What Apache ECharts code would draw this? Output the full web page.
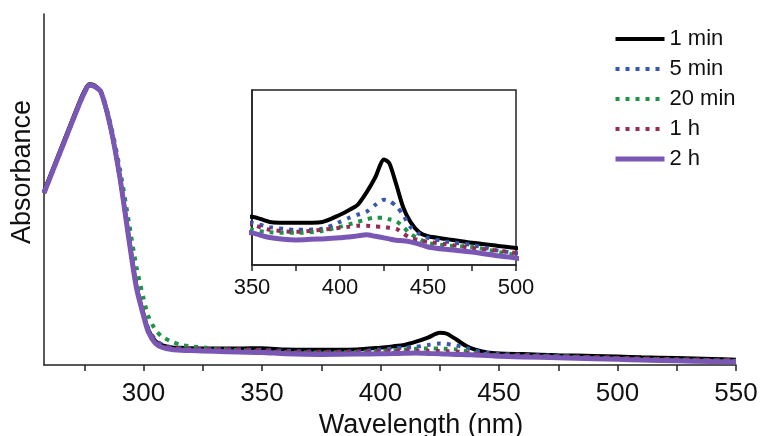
<!DOCTYPE html>
<html>
<head>
<meta charset="utf-8">
<script src="https://cdn.jsdelivr.net/npm/echarts@6/dist/echarts.min.js"></script>
<style>
  html, body { margin: 0; padding: 0; background: #fff; }
  #chart { width: 775px; height: 436px; }
</style>
</head>
<body>
<div id="chart"></div>
<script>
// wavelengths (nm) shared by all spectra
const wavelengths = [258, 263, 268, 273, 275, 277, 279, 282, 286, 290, 294, 297, 300, 302, 305, 308, 312, 316, 320, 330, 340, 350,
  360, 375, 390, 400, 405, 410, 415, 420, 425, 428, 432, 436, 440, 445, 450, 460, 475, 490, 500, 510, 525, 540, 550]

const min1 = [0.495, 0.58, 0.665, 0.75, 0.78, 0.8, 0.798, 0.778, 0.68, 0.535, 0.355, 0.225, 0.145, 0.1, 0.068, 0.056, 0.05, 0.049, 0.048, 0.047, 0.047, 0.048,
  0.044, 0.0433, 0.044, 0.0495, 0.053, 0.057, 0.0664, 0.078, 0.0918, 0.089, 0.0725, 0.0548, 0.044, 0.036, 0.033, 0.031, 0.028, 0.0256, 0.024, 0.022, 0.02, 0.017, 0.015]
const min5 = [0.49, 0.575, 0.66, 0.745, 0.775, 0.797, 0.795, 0.778, 0.68, 0.537, 0.36, 0.232, 0.15, 0.105, 0.072, 0.058, 0.05, 0.048, 0.047, 0.045, 0.044, 0.0433,
  0.04, 0.038, 0.0387, 0.044, 0.047, 0.0495, 0.0518, 0.057, 0.061, 0.06, 0.056, 0.049, 0.0402, 0.0348, 0.0318, 0.029, 0.0264, 0.022, 0.0202, 0.018, 0.016, 0.014, 0.013]
const min20 = [0.49, 0.575, 0.66, 0.745, 0.775, 0.797, 0.796, 0.78, 0.69, 0.56, 0.4, 0.28, 0.19, 0.14, 0.1, 0.08, 0.066, 0.057, 0.053, 0.047, 0.042, 0.038,
  0.036, 0.0356, 0.037, 0.0402, 0.042, 0.044, 0.046, 0.0472, 0.0472, 0.046, 0.0445, 0.04, 0.0348, 0.031, 0.0279, 0.026, 0.0248, 0.021, 0.0187, 0.017, 0.015, 0.013, 0.012]
const h1 = [0.49, 0.575, 0.66, 0.745, 0.775, 0.797, 0.795, 0.778, 0.68, 0.535, 0.352, 0.222, 0.145, 0.1, 0.066, 0.054, 0.049, 0.047, 0.046, 0.045, 0.044, 0.0418,
  0.038, 0.0364, 0.038, 0.0395, 0.0403, 0.041, 0.041, 0.0405, 0.0402, 0.0395, 0.0387, 0.035, 0.0318, 0.03, 0.0287, 0.027, 0.0241, 0.022, 0.0202, 0.018, 0.016, 0.014, 0.013]
const h2 = [0.49, 0.575, 0.66, 0.745, 0.775, 0.797, 0.795, 0.778, 0.68, 0.535, 0.35, 0.22, 0.14, 0.095, 0.062, 0.05, 0.044, 0.042, 0.041, 0.039, 0.037, 0.0356,
  0.032, 0.0302, 0.031, 0.0318, 0.0325, 0.0333, 0.0341, 0.033, 0.0318, 0.031, 0.03, 0.0295, 0.0287, 0.027, 0.0248, 0.023, 0.021, 0.018, 0.0164, 0.014, 0.012, 0.01, 0.009]

const seriesNames = ['1 min', '5 min', '20 min', '1 h', '2 h']
const seriesData = [min1, min5, min20, h1, h2]
const colors = ['#000000', '#3656b2', '#1f9446', '#952c56', '#7b57b5']
const lineTypes = ['solid', [4, 6], [4, 6], [4, 6], 'solid']
const lineWidths = [4, 4, 4, 4, 5]

const mainTicks = [275, 300, 325, 350, 375, 400, 425, 450, 475, 500, 525, 550]
const mainLabels = [300, 350, 400, 450, 500, 550]

const chart = echarts.init(document.getElementById('chart'))
const font = 'Liberation Sans, Arial, sans-serif'

const makeSeries = (axisIdx) => seriesNames.map((name, i) => ({
  name,
  type: 'line',
  xAxisIndex: axisIdx,
  yAxisIndex: axisIdx,
  data: wavelengths.map((w, k) => [w, seriesData[i][k]]),
  smooth: 0.25,
  symbol: 'none',
  clip: true,
  lineStyle: { color: colors[i], width: lineWidths[i], type: lineTypes[i] },
  itemStyle: { color: colors[i] },
  z: 2 + i
}))

const option = {
  animation: false,
  backgroundColor: '#fff',
  legend: {
    data: seriesNames.map((name, i) => ({
      name,
      itemStyle: { opacity: 0 },
      lineStyle: { width: lineWidths[i], type: lineTypes[i], color: colors[i] }
    })),
    orient: 'vertical',
    left: 613,
    top: 28,
    padding: 0,
    itemWidth: 49,
    itemHeight: 14,
    itemGap: 8,
    itemStyle: { opacity: 0 },
    textStyle: { fontFamily: font, fontSize: 22, color: '#111', lineHeight: 22 }
  },
  grid: [
    { left: 44, right: 39, top: 14, bottom: 71, outerBoundsMode: 'none' },
    { left: 252, right: 259, top: 90, bottom: 171, outerBoundsMode: 'none', show: true, borderColor: '#222', borderWidth: 1.5, backgroundColor: '#fff', z: 10 }
  ],
  xAxis: [
    {
      type: 'value', gridIndex: 0, min: 258, max: 550,
      name: 'Wavelength (nm)', nameLocation: 'middle', nameGap: 46,
      nameTextStyle: { fontFamily: font, fontSize: 27, color: '#111', padding: [0, 0, 0, 62] },
      axisLine: { lineStyle: { color: '#222', width: 1.5 } },
      axisTick: { show: true, length: 6, customValues: mainTicks, lineStyle: { color: '#222', width: 1.5 } },
      axisLabel: { customValues: mainLabels, margin: 16, fontFamily: font, fontSize: 26, color: '#111' },
      splitLine: { show: false }
    },
    {
      type: 'value', gridIndex: 1, min: 350, max: 500, interval: 25, z: 11,
      axisLine: { lineStyle: { color: '#222', width: 1.5 } },
      axisTick: { show: true, length: 6, lineStyle: { color: '#222', width: 1.5 } },
      axisLabel: {
        margin: 12, fontFamily: font, fontSize: 22, color: '#111',
        formatter: (v) => (v % 50 === 0 ? String(v) : '')
      },
      splitLine: { show: false }
    }
  ],
  yAxis: [
    {
      type: 'value', gridIndex: 0, min: 0, max: 1,
      name: 'Absorbance', nameLocation: 'middle', nameGap: 8, nameRotate: 90,
      nameTextStyle: { fontFamily: font, fontSize: 27, color: '#111', padding: [0, 0, 0, 35] },
      axisLine: { show: true, lineStyle: { color: '#222', width: 1.5 } },
      axisTick: { show: false },
      axisLabel: { show: false },
      splitLine: { show: false }
    },
    {
      type: 'value', gridIndex: 1, min: 0.011, max: 0.145, z: 11,
      axisLine: { show: true, lineStyle: { color: '#222', width: 1.5 } },
      axisTick: { show: false },
      axisLabel: { show: false },
      splitLine: { show: false }
    }
  ],
  series: [...makeSeries(0), ...makeSeries(1).map(s => ({ ...s, z: 12 + s.z }))]
}

chart.setOption(option)
window.addEventListener('resize', () => chart.resize())
</script>
</body>
</html>
